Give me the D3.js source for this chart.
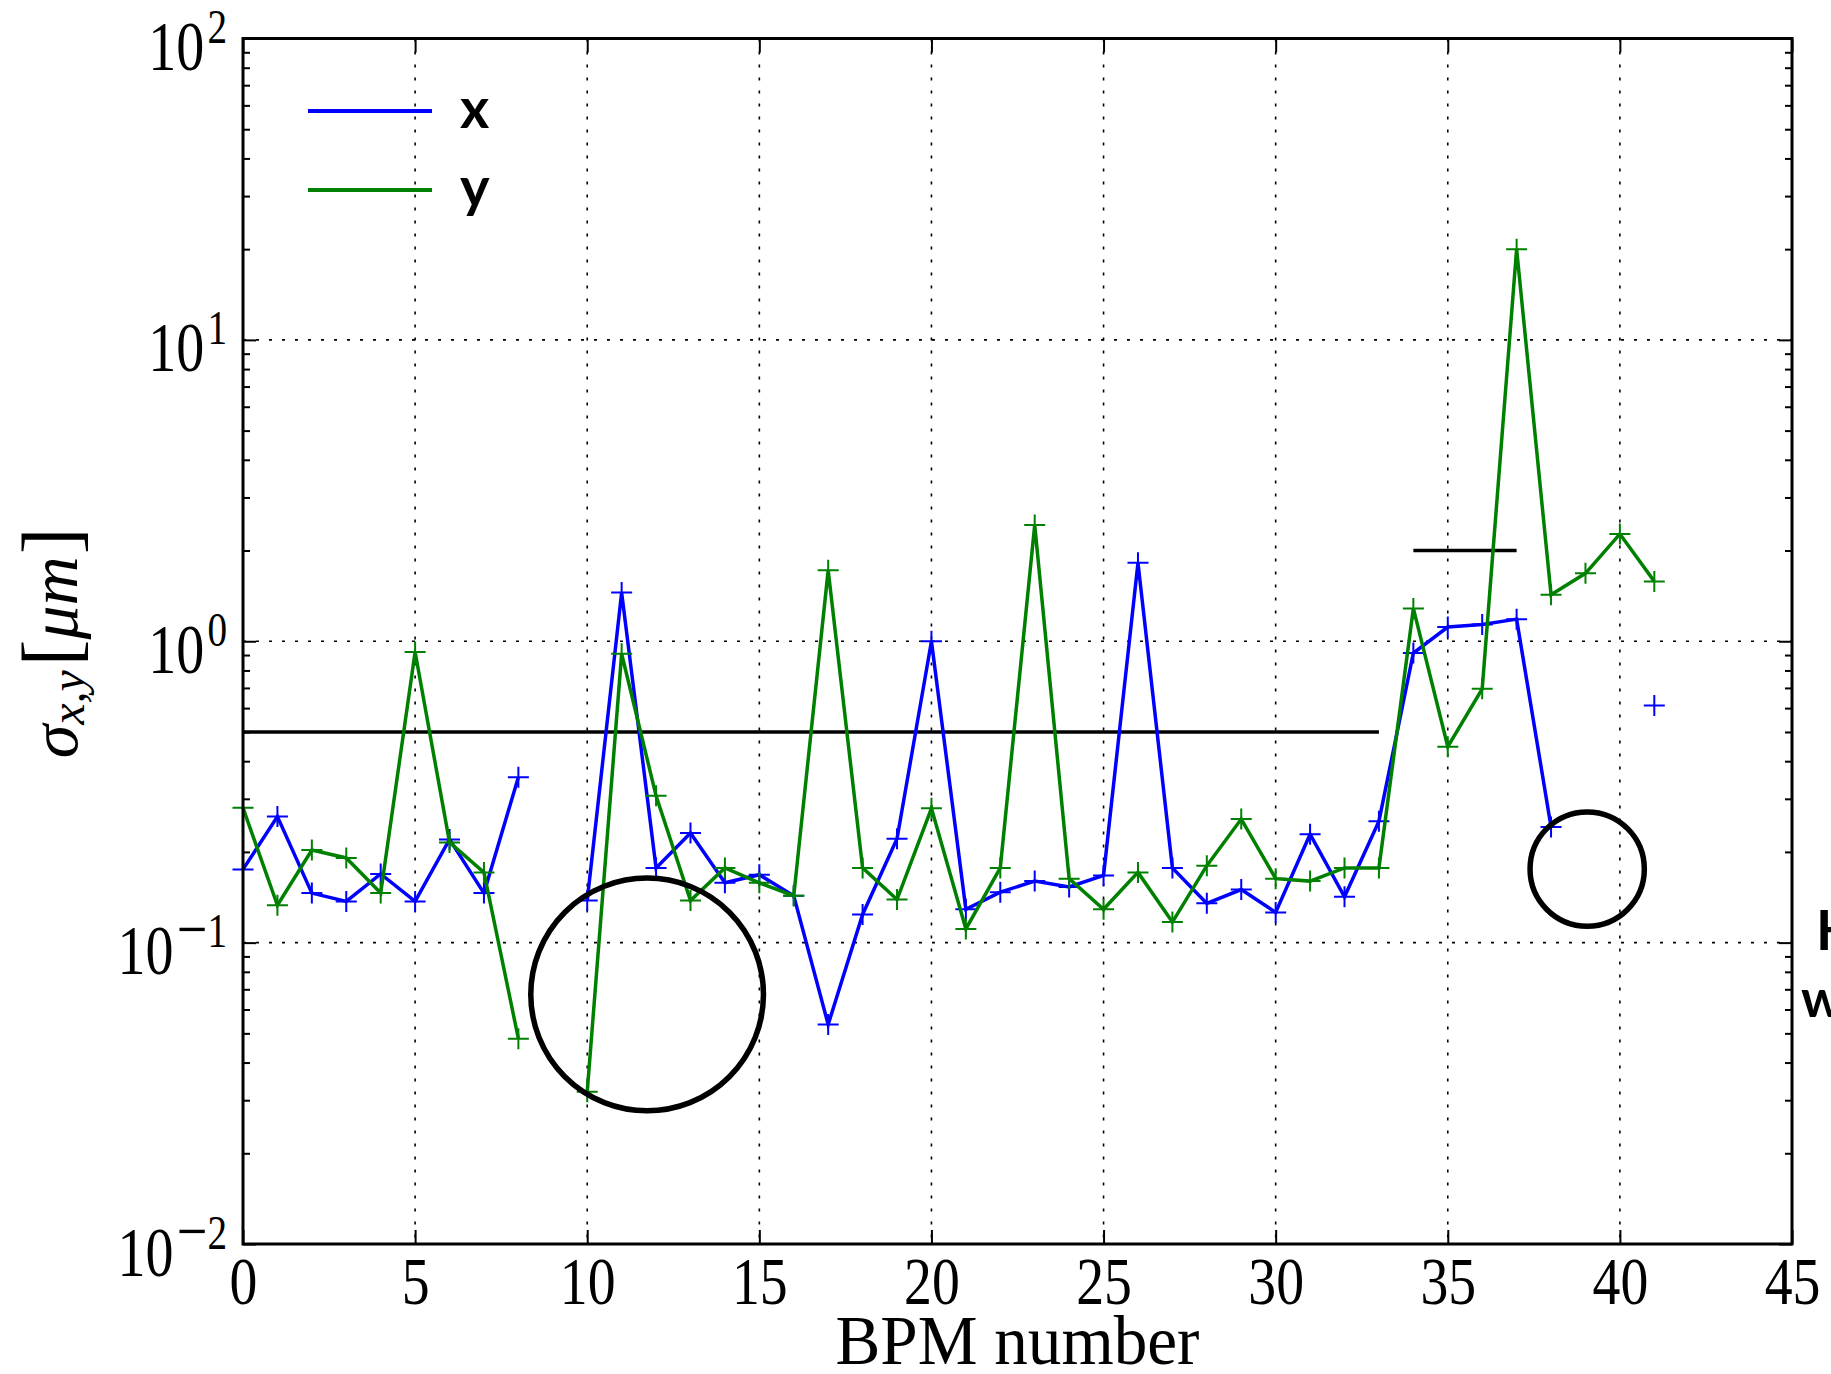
<!DOCTYPE html>
<html>
<head>
<meta charset="utf-8">
<script src="https://cdn.jsdelivr.net/npm/d3@7"></script>
<style>
  html, body { margin: 0; padding: 0; background: #fff; overflow: hidden; }
  svg { display: block; }
</style>
</head>
<body>
<svg id="chart" width="1831" height="1374"></svg>
<script>
// BPM index along the line
const bpm = [0,1,2,3,4,5,6,7,8,9,10,11,12,13,14,15,16,17,18,19,20,
             21,22,23,24,25,26,27,28,29,30,31,32,33,34,35,36,37,38,39,40,41];

// Resolution per BPM in µm (null = no reading)
const sigmaX = [0.175,0.262,0.146,0.137,0.169,0.137,0.220,0.146,0.354,null,
                0.138,1.45,0.177,0.231,0.158,0.168,0.143,0.0535,0.124,0.221,
                1.0,0.129,0.147,0.160,0.153,0.167,1.82,0.177,0.135,0.150,
                0.126,0.229,0.142,0.253,0.914,1.115,1.137,1.184,0.242,null,
                null,0.612];
const sigmaY = [0.28,0.133,0.203,0.191,0.146,0.921,0.215,0.171,0.048,null,
                0.032,0.909,0.307,0.138,0.177,0.158,0.143,1.72,0.177,0.139,
                0.279,0.111,0.177,2.43,0.163,0.129,0.171,0.117,0.180,0.257,
                0.163,0.160,0.177,0.177,1.285,0.447,0.695,20.0,1.426,1.68,
                2.27,1.58];

// Required resolution levels: value and BPM span
const limitValues = [0.5, 2.0];
const limitFrom   = [0, 34];
const limitTo     = [33, 37];

// Highlighted regions: centre (BPM, µm) and radius in BPM units
const ringBpm    = [11.74, 39.05];
const ringValue  = [0.0673, 0.1754];
const ringRadius = [3.38, 1.66];

// Axis ticks
const xTicks = [0,5,10,15,20,25,30,35,40,45];
const yTicks = [0.01,0.1,1,10,100];
const yTickExponents = [-2,-1,0,1,2];

const seriesNames  = ["x","y"];
const seriesColors = ["#0000ff","#008000"];
const sideNotes = ["H","w"];

// ---------------------------------------------------------------
const svg = d3.select("#chart");
const L = 243, R = 1792, T = 38.5, B = 1244;

const x = d3.scaleLinear().domain([0,45]).range([L,R]);
const y = d3.scaleLog().domain([0.01,100]).range([B,T]);

const serif = "'Liberation Serif', 'Times New Roman', serif";
const sans  = "Lato, 'Open Sans', sans-serif";

// dotted grid
const grid = svg.append("g").attr("stroke","#000").attr("stroke-width",1.6)
  .attr("stroke-dasharray","3,10").attr("fill","none");
grid.selectAll("line.gx").data(xTicks.slice(1,-1)).join("line")
  .attr("x1",d=>x(d)).attr("x2",d=>x(d)).attr("y1",T).attr("y2",B);
grid.selectAll("line.gy").data(yTicks.slice(1,-1)).join("line")
  .attr("y1",d=>y(d)).attr("y2",d=>y(d)).attr("x1",L).attr("x2",R);

// limit lines
svg.append("g").selectAll("line").data(limitValues).join("line")
  .attr("x1",(d,i)=>x(limitFrom[i])).attr("x2",(d,i)=>x(limitTo[i]))
  .attr("y1",d=>y(d)).attr("y2",d=>y(d))
  .attr("stroke","#000").attr("stroke-width",3.5);

// series
[sigmaX, sigmaY].forEach((vals,si)=>{
  const pts = bpm.map((b,i)=>({b, v: vals[i]}));
  const line = d3.line().defined(d=>d.v!=null).x(d=>x(d.b)).y(d=>y(d.v));
  const g = svg.append("g");
  g.append("path").datum(pts).attr("d",line)
    .attr("fill","none").attr("stroke",seriesColors[si])
    .attr("stroke-width",3.5).attr("stroke-linejoin","miter");
  g.selectAll("path.m").data(pts.filter(d=>d.v!=null)).join("path")
    .attr("class","m")
    .attr("d",d=>`M${x(d.b)-10.5},${y(d.v)}H${x(d.b)+10.5}M${x(d.b)},${y(d.v)-10.5}V${y(d.v)+10.5}`)
    .attr("stroke",seriesColors[si]).attr("stroke-width",2).attr("fill","none");
});

// highlight rings
svg.append("g").selectAll("circle").data(ringBpm).join("circle")
  .attr("cx",d=>x(d)).attr("cy",(d,i)=>y(ringValue[i]))
  .attr("r",(d,i)=>x(d+ringRadius[i])-x(d))
  .attr("fill","none").attr("stroke","#000").attr("stroke-width",5.5);

// axes (ticks inward)
function styleAxis(g){
  g.select(".domain").remove();
  g.selectAll(".tick line").attr("stroke","#000").attr("stroke-width",2);
}
const minor = y.ticks().filter(v=>Math.abs(Math.log10(v)-Math.round(Math.log10(v)))>1e-6);

const gx = svg.append("g").attr("transform",`translate(0,${B})`)
  .call(d3.axisBottom(x).tickValues(xTicks).tickSizeInner(-14).tickSizeOuter(0).tickFormat(d3.format("d")))
  .call(styleAxis)
  .attr("font-family",serif).attr("font-size",68);
gx.selectAll(".tick text").attr("y",60).attr("dy",null)
  .attr("transform","scale(0.82,1)").attr("fill","#000");

svg.append("g").attr("transform",`translate(0,${T})`)
  .call(d3.axisTop(x).tickValues(xTicks).tickSizeInner(-14).tickSizeOuter(0).tickFormat(""))
  .call(styleAxis);

const gy = svg.append("g").attr("transform",`translate(${L},0)`)
  .call(d3.axisLeft(y).tickValues(yTicks).tickSizeInner(-13).tickSizeOuter(0).tickFormat(""))
  .call(styleAxis)
  .attr("font-family",serif).attr("font-size",70);
gy.selectAll(".tick text").each(function(d,i){
  const t = d3.select(this);
  const e = yTickExponents[i];
  t.text(null).attr("x",-20).attr("y",31).attr("dy",null)
    .attr("transform","scale(0.8,1)").attr("text-anchor","end").attr("fill","#000");
  t.append("tspan").text("10");
  if (e < 0) {
    t.append("tspan").attr("dx",4).attr("dy",-22).attr("font-size",68).text("\u2212");
    t.append("tspan").attr("dy",-5).attr("font-size",49).text(String(-e));
  } else {
    t.append("tspan").attr("dx",4).attr("dy",-27).attr("font-size",49).text(String(e));
  }
});
svg.append("g").attr("transform",`translate(${L},0)`)
  .call(d3.axisLeft(y).tickValues(minor).tickSizeInner(-7).tickSizeOuter(0).tickFormat(""))
  .call(styleAxis);
svg.append("g").attr("transform",`translate(${R},0)`)
  .call(d3.axisRight(y).tickValues(yTicks).tickSizeInner(-13).tickSizeOuter(0).tickFormat(""))
  .call(styleAxis);
svg.append("g").attr("transform",`translate(${R},0)`)
  .call(d3.axisRight(y).tickValues(minor).tickSizeInner(-7).tickSizeOuter(0).tickFormat(""))
  .call(styleAxis);

// frame
svg.append("rect").attr("x",L).attr("y",T).attr("width",R-L).attr("height",B-T)
  .attr("fill","none").attr("stroke","#000").attr("stroke-width",3);

// axis titles
const cx = (L+R)/2;
svg.append("text").attr("x",cx).attr("y",1364).attr("text-anchor","middle")
  .attr("font-family",serif).attr("font-size",70)
  .attr("transform",`translate(${cx*(1-0.96)},0) scale(0.96,1)`)
  .text("BPM number");

const yl = svg.append("text").attr("transform","translate(77,643) rotate(-90)")
  .attr("text-anchor","middle").attr("font-family",serif).attr("font-size",68);
yl.append("tspan").attr("font-style","italic").text("\u03c3");
yl.append("tspan").attr("font-style","italic").attr("font-size",48).attr("dy",7).text("x,y");
yl.append("tspan").attr("dx",4).attr("dy",-7).attr("font-size",80).text("[");
yl.append("tspan").attr("font-style","italic").text("\u03bcm");
yl.append("tspan").attr("dx",2).attr("font-size",80).text("]");

// legend
const legY = [111, 190];
const leg = svg.append("g");
seriesNames.forEach((n,i)=>{
  leg.append("line").attr("x1",308).attr("x2",432).attr("y1",legY[i]).attr("y2",legY[i])
    .attr("stroke",seriesColors[i]).attr("stroke-width",4);
  leg.append("text").attr("x",460).attr("y",legY[i]+17)
    .attr("font-family",sans).attr("font-weight",700).attr("font-size",56).text(n);
});

// text running in from the right margin
svg.append("text").attr("x",1816).attr("y",950).attr("font-family",sans)
  .attr("font-weight",700).attr("font-size",55).text(sideNotes[0]);
svg.append("text").attr("x",1801).attr("y",1017).attr("font-family",sans)
  .attr("font-weight",700).attr("font-size",52).text(sideNotes[1]);
</script>
</body>
</html>
